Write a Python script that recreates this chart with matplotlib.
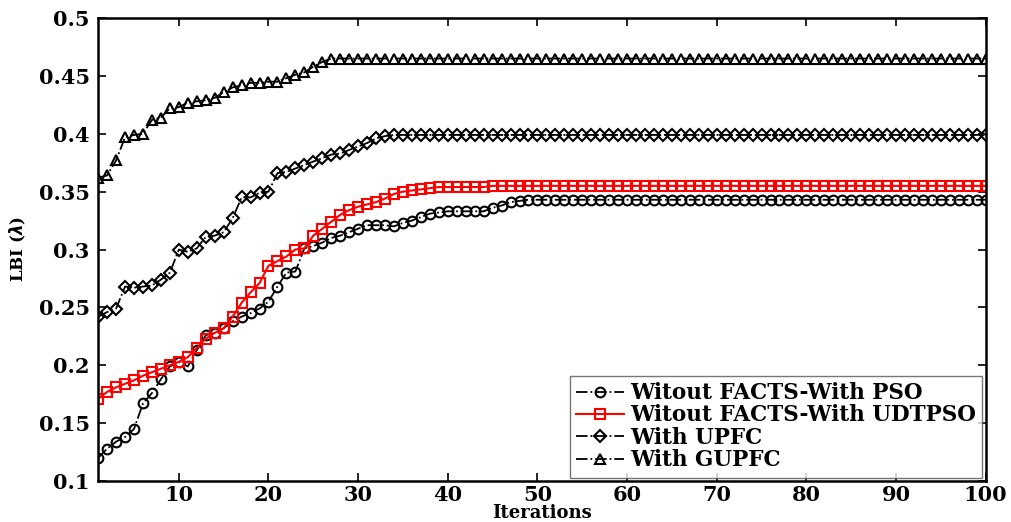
import matplotlib
matplotlib.use("Agg")
import matplotlib.pyplot as plt
import numpy as np

iterations = np.arange(1, 101)

pso = [
    0.120, 0.128, 0.134, 0.138, 0.145, 0.167, 0.176, 0.188, 0.199, 0.203,
    0.199, 0.213, 0.226, 0.228, 0.232, 0.238, 0.242, 0.245, 0.249, 0.255,
    0.268, 0.280, 0.281, 0.301, 0.303, 0.306, 0.310, 0.312, 0.315, 0.318,
    0.321, 0.321, 0.321, 0.320, 0.323, 0.325, 0.328, 0.331, 0.332, 0.333,
    0.333, 0.333, 0.333, 0.333, 0.336, 0.338, 0.341, 0.342, 0.343, 0.343,
    0.343, 0.343, 0.343, 0.343, 0.343, 0.343, 0.343, 0.343, 0.343, 0.343,
    0.343, 0.343, 0.343, 0.343, 0.343, 0.343, 0.343, 0.343, 0.343, 0.343,
    0.343, 0.343, 0.343, 0.343, 0.343, 0.343, 0.343, 0.343, 0.343, 0.343,
    0.343, 0.343, 0.343, 0.343, 0.343, 0.343, 0.343, 0.343, 0.343, 0.343,
    0.343, 0.343, 0.343, 0.343, 0.343, 0.343, 0.343, 0.343, 0.343, 0.343,
]
udtpso = [
    0.171, 0.177, 0.181, 0.184, 0.187, 0.191, 0.194, 0.197, 0.200, 0.203,
    0.207, 0.215, 0.223, 0.228, 0.232, 0.242, 0.254, 0.263, 0.271, 0.286,
    0.290, 0.294, 0.300, 0.301, 0.312, 0.318, 0.324, 0.330, 0.334, 0.337,
    0.339, 0.341, 0.344, 0.348, 0.350, 0.351, 0.352, 0.353, 0.354, 0.354,
    0.354, 0.354, 0.354, 0.354, 0.355, 0.355, 0.355, 0.355, 0.355, 0.355,
    0.355, 0.355, 0.355, 0.355, 0.355, 0.355, 0.355, 0.355, 0.355, 0.355,
    0.355, 0.355, 0.355, 0.355, 0.355, 0.355, 0.355, 0.355, 0.355, 0.355,
    0.355, 0.355, 0.355, 0.355, 0.355, 0.355, 0.355, 0.355, 0.355, 0.355,
    0.355, 0.355, 0.355, 0.355, 0.355, 0.355, 0.355, 0.355, 0.355, 0.355,
    0.355, 0.355, 0.355, 0.355, 0.355, 0.355, 0.355, 0.355, 0.355, 0.355,
]
upfc = [
    0.242, 0.246, 0.249, 0.268, 0.267, 0.268, 0.269, 0.274, 0.280, 0.300,
    0.298, 0.301, 0.311, 0.312, 0.315, 0.327, 0.345, 0.345, 0.349, 0.350,
    0.366, 0.367, 0.370, 0.373, 0.376, 0.379, 0.382, 0.383, 0.386, 0.389,
    0.392, 0.396, 0.398, 0.399, 0.399, 0.399, 0.399, 0.399, 0.399, 0.399,
    0.399, 0.399, 0.399, 0.399, 0.399, 0.399, 0.399, 0.399, 0.399, 0.399,
    0.399, 0.399, 0.399, 0.399, 0.399, 0.399, 0.399, 0.399, 0.399, 0.399,
    0.399, 0.399, 0.399, 0.399, 0.399, 0.399, 0.399, 0.399, 0.399, 0.399,
    0.399, 0.399, 0.399, 0.399, 0.399, 0.399, 0.399, 0.399, 0.399, 0.399,
    0.399, 0.399, 0.399, 0.399, 0.399, 0.399, 0.399, 0.399, 0.399, 0.399,
    0.399, 0.399, 0.399, 0.399, 0.399, 0.399, 0.399, 0.399, 0.399, 0.399,
]
gupfc = [
    0.362, 0.364, 0.377, 0.397, 0.399, 0.400, 0.412, 0.414, 0.422, 0.423,
    0.427, 0.428, 0.429, 0.431, 0.436, 0.440, 0.442, 0.444, 0.444, 0.445,
    0.445, 0.448, 0.451, 0.453, 0.458, 0.462, 0.465, 0.465, 0.465, 0.465,
    0.465, 0.465, 0.465, 0.465, 0.465, 0.465, 0.465, 0.465, 0.465, 0.465,
    0.465, 0.465, 0.465, 0.465, 0.465, 0.465, 0.465, 0.465, 0.465, 0.465,
    0.465, 0.465, 0.465, 0.465, 0.465, 0.465, 0.465, 0.465, 0.465, 0.465,
    0.465, 0.465, 0.465, 0.465, 0.465, 0.465, 0.465, 0.465, 0.465, 0.465,
    0.465, 0.465, 0.465, 0.465, 0.465, 0.465, 0.465, 0.465, 0.465, 0.465,
    0.465, 0.465, 0.465, 0.465, 0.465, 0.465, 0.465, 0.465, 0.465, 0.465,
    0.465, 0.465, 0.465, 0.465, 0.465, 0.465, 0.465, 0.465, 0.465, 0.465,
]
labels = [
    "Witout FACTS-With PSO",
    "Witout FACTS-With UDTPSO",
    "With UPFC",
    "With GUPFC",
]
x_ticks = [10, 20, 30, 40, 50, 60, 70, 80, 90, 100]
y_ticks = [0.1, 0.15, 0.2, 0.25, 0.3, 0.35, 0.4, 0.45, 0.5]
y_ticklabels = ["0.1", "0.15", "0.2", "0.25", "0.3", "0.35", "0.4", "0.45", "0.5"]

plt.rcParams["font.family"] = ["DejaVu Serif"]
plt.rcParams["font.weight"] = "bold"

fig = plt.figure(figsize=(10.12, 5.22), dpi=100)
ax = fig.add_axes([0.097, 0.0785, 0.877, 0.887])

mk = dict(markersize=7, markeredgewidth=1.5, markerfacecolor="none", linewidth=1.3)
ax.plot(iterations, pso, "-.", color="black", marker="o", label=labels[0], **mk)
ax.plot(iterations, udtpso, "-", color="red", marker="s", label=labels[1],
        markersize=6.5, markeredgewidth=1.5, markerfacecolor="none", linewidth=1.5)
ax.plot(iterations, upfc, "-.", color="black", marker="D", label=labels[2],
        markersize=6, markeredgewidth=1.5, markerfacecolor="none", linewidth=1.3)
ax.plot(iterations, gupfc, "-.", color="black", marker="^", label=labels[3], **mk)

ax.set_xlim(1, 100)
ax.set_ylim(0.1, 0.5)
ax.set_xticks(x_ticks)
ax.set_yticks(y_ticks)
ax.set_yticklabels(y_ticklabels)
ax.tick_params(direction="in", top=True, right=True, length=6, width=1.2,
               labelsize=15, pad=6)
ax.tick_params(axis="x", pad=3)
for lab in ax.get_xticklabels() + ax.get_yticklabels():
    lab.set_fontweight("bold")
for s in ax.spines.values():
    s.set_linewidth(1.8)

ax.set_xlabel("Iterations", fontsize=13, fontweight="bold", labelpad=-1)
ax.set_ylabel("LBI ($\\lambda$)", fontsize=12, fontweight="bold", labelpad=8)

leg = ax.legend(loc="lower right", prop={"weight": "bold", "size": 15.5},
                frameon=True, fancybox=False, edgecolor="#555555",
                handlelength=2.2, handletextpad=0.3, labelspacing=0.02,
                borderpad=0.3, borderaxespad=0.15)
leg.get_frame().set_linewidth(1.0)

fig.savefig("out.png", dpi=100)
